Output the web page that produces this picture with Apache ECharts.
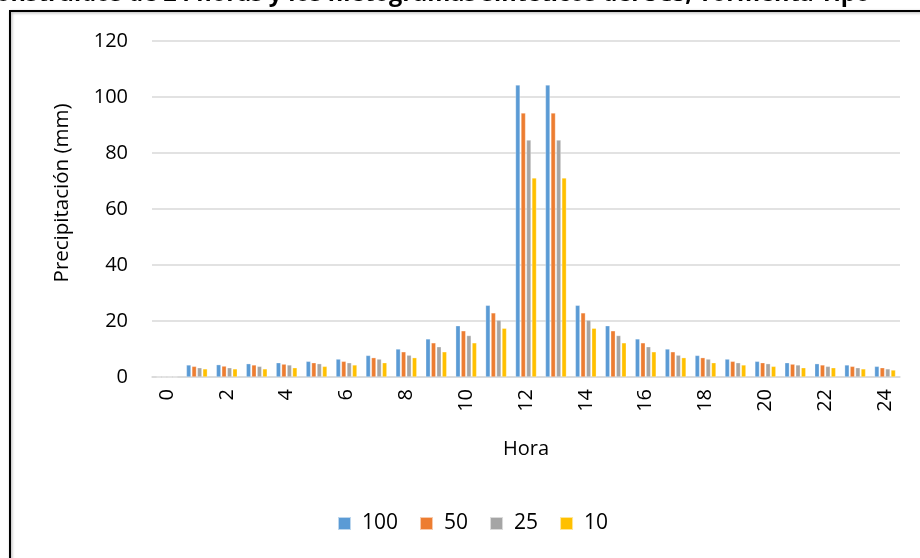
<!DOCTYPE html>
<html>
<head>
<meta charset="utf-8">
<script src="https://cdn.jsdelivr.net/npm/echarts@6/dist/echarts.min.js"></script>
<style>
html,body{margin:0;padding:0;background:#fff;}
#c{width:920px;height:558px;}
</style>
</head>
<body>
<div id="c"></div>
<script>
var hours = ['0','1','2','3','4','5','6','7','8','9','10','11','12','13','14','15','16','17','18','19','20','21','22','23','24'];
var s100 = [0, 4.3, 4.4, 4.75, 5.1, 5.6, 6.4, 7.7, 10.0, 13.6, 18.3, 25.6, 104.3, 104.3, 25.6, 18.3, 13.6, 10.0, 7.7, 6.4, 5.6, 5.1, 4.75, 4.3, 3.8];
var s50  = [0, 3.8, 3.9, 4.3, 4.6, 5.1, 5.6, 6.9, 9.0, 12.2, 16.5, 22.9, 94.3, 94.3, 22.9, 16.5, 12.2, 9.0, 6.9, 5.6, 5.1, 4.6, 4.3, 3.8, 3.3];
var s25  = [0, 3.3, 3.3, 3.8, 4.3, 4.75, 5.1, 6.4, 7.8, 10.8, 14.8, 20.3, 84.6, 84.6, 20.3, 14.8, 10.8, 7.8, 6.4, 5.1, 4.75, 4.3, 3.8, 3.3, 2.9];
var s10  = [0, 2.9, 2.9, 2.9, 3.3, 3.8, 4.3, 5.1, 6.9, 9.0, 12.2, 17.4, 71.1, 71.1, 17.4, 12.2, 9.0, 6.9, 5.1, 4.3, 3.8, 3.3, 3.3, 2.9, 2.5];
var seriesNames = ['100','50','25','10'];
var yTicks = [0, 20, 40, 60, 80, 100, 120];
var titleText = 'onstruidos de 24 horas y los hietogramas sintéticos del SCS, Tormenta Tipo';

var colors = ['#5B9BD5','#ED7D31','#A5A5A5','#FFC000'];
var font = 'Open Sans, Lato, sans-serif';
var chart = echarts.init(document.getElementById('c'));
var data = [s100, s50, s25, s10];
chart.setOption({
  animation: false,
  color: colors,
  textStyle: {fontFamily: font},
  graphic: [
    {type:'rect', shape:{x:10, y:11, width:1000, height:700}, style:{fill:'none', stroke:'#000', lineWidth:2, shadowColor:'rgba(0,0,0,0.35)', shadowBlur:3, shadowOffsetX:1, shadowOffsetY:1}, z:-1, silent:true},
    {type:'text', left:-4, top:-18, style:{text:titleText, font:'bold 23.5px ' + font, fill:'#000'}, silent:true},
    {type:'text', x:62, y:193, rotation:Math.PI/2, style:{text:'Precipitación (mm)', font:'20.5px ' + font, fill:'#000', align:'center', verticalAlign:'middle'}, silent:true}
  ],
  grid: {left:152, right:20, top:41, bottom:181, containLabel:false},
  legend: {
    data: seriesNames, left: 332, top: 508, icon: 'rect', itemWidth: 13, itemHeight: 13, itemGap: 21,
    textStyle: {fontSize: 21, color: '#000', fontFamily: font, padding:[0,0,0,6]}
  },
  xAxis: {
    type: 'category', data: hours,
    name: 'Hora', nameLocation: 'middle', nameGap: 62,
    nameTextStyle: {fontSize: 20, color: '#000', fontFamily: font},
    axisLine: {show:true, lineStyle:{color:'#D9D9D9', width:1.5}},
    axisTick: {show:false},
    axisLabel: {interval: 1, rotate: 90, fontSize: 20, color: '#000', margin: 12, fontFamily: font}
  },
  yAxis: {
    type: 'value', min: yTicks[0], max: yTicks[yTicks.length-1], interval: 20,
    axisLine: {show:false}, axisTick: {show:false},
    axisLabel: {fontSize: 20, color: '#000', margin: 24, fontFamily: font},
    splitLine: {lineStyle:{color:'#D9D9D9', width:1.5}}
  },
  series: seriesNames.map(function(n, i){
    return {name:n, type:'bar', data:data[i], barGap:'20%', barCategoryGap:'30%',
      itemStyle:{borderColor:'rgba(255,255,255,0.6)', borderWidth:0.5}};
  })
});
</script>
</body>
</html>
